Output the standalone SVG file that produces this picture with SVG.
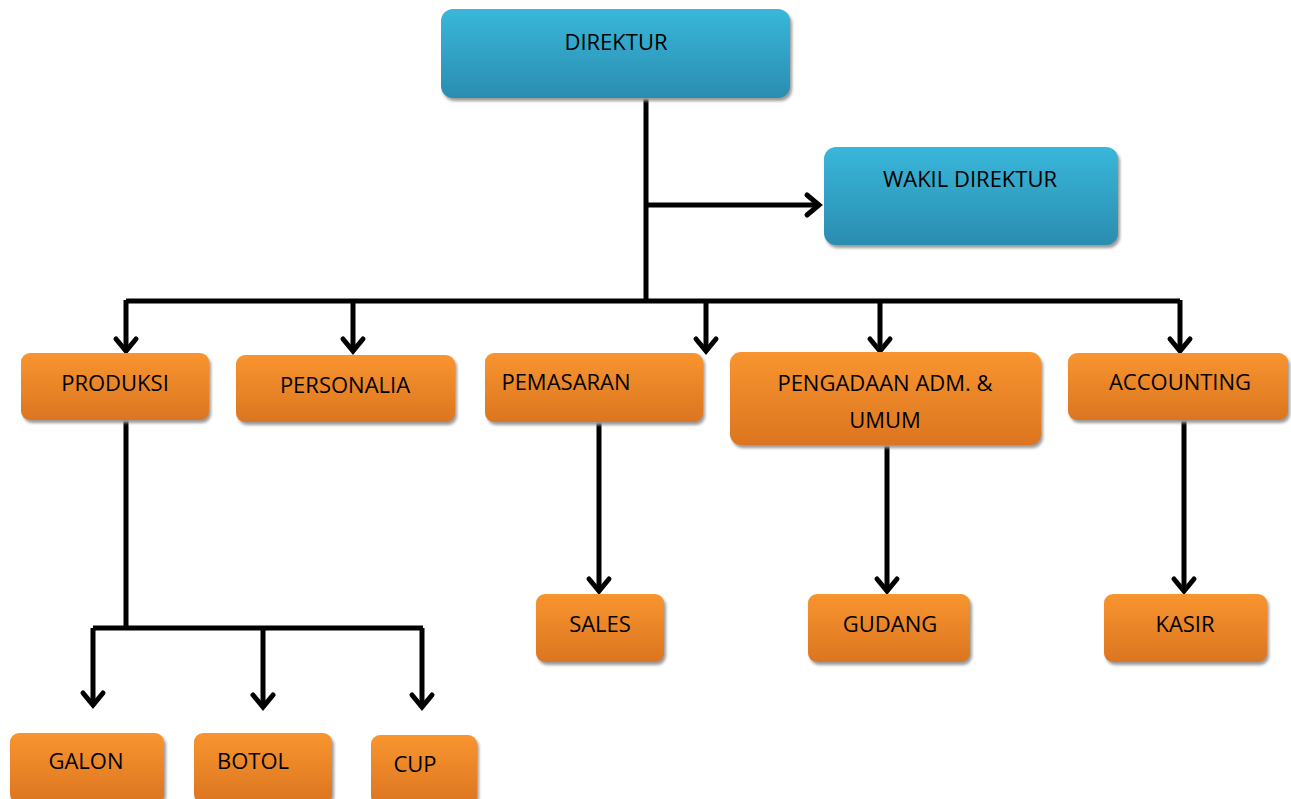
<svg xmlns="http://www.w3.org/2000/svg" width="1291" height="799" viewBox="0 0 1291 799">
<defs>
<linearGradient id="gb" x1="0" y1="0" x2="0" y2="1"><stop offset="0" stop-color="#39b7da"/><stop offset="1" stop-color="#2a8db0"/></linearGradient>
<linearGradient id="go" x1="0" y1="0" x2="0" y2="1"><stop offset="0" stop-color="#f8952f"/><stop offset="1" stop-color="#dc7520"/></linearGradient>
<filter id="sh" x="-10%" y="-10%" width="120%" height="130%"><feGaussianBlur stdDeviation="1.5"/></filter>
<marker id="ah" markerUnits="userSpaceOnUse" viewBox="-16 -13 20 26" refX="0" refY="0" markerWidth="20" markerHeight="26" orient="auto" overflow="visible">
<path d="M-12,-10 L0,0 L-12,10" fill="none" stroke="#000" stroke-width="5" stroke-linecap="round" stroke-linejoin="miter"/>
</marker>
<style>
.s{fill:#9a9a9a;filter:url(#sh)}
.b{fill:url(#gb)}
.o{fill:url(#go)}
text{font-family:"Open Sans","Noto Sans","Liberation Sans",sans-serif;font-size:22px;fill:#000;text-anchor:middle}
.c path{fill:none;stroke:#000;stroke-width:5}
.c .a{marker-end:url(#ah)}
</style>
</defs>
<rect width="1291" height="799" fill="#fff"/>
<g class="c" id="connectors">
<path d="M646,98 V303"/>
<path class="a" d="M646,205 H819"/>
<path d="M126,301 H1180"/>
<path class="a" d="M126,300 V351"/>
<path class="a" d="M353,300 V351"/>
<path class="a" d="M706,300 V351"/>
<path class="a" d="M880,300 V351"/>
<path class="a" d="M1180,300 V351"/>
<path d="M126,420 V630"/>
<path d="M93,628 H423"/>
<path class="a" d="M93,628 V705"/>
<path class="a" d="M263,628 V707"/>
<path class="a" d="M422,628 V707"/>
<path class="a" d="M599,422 V591"/>
<path class="a" d="M887,445 V591"/>
<path class="a" d="M1184,420 V591"/>
</g>
<g id="direktur"><rect class="s" x="443" y="12" width="349" height="89" rx="12"/><rect class="b" x="441" y="9" width="349" height="89" rx="12"/><text x="616" y="50">DIREKTUR</text></g>
<g id="wakil"><rect class="s" x="826" y="150" width="294" height="98" rx="12"/><rect class="b" x="824" y="147" width="294" height="98" rx="12"/><text x="970" y="187">WAKIL DIREKTUR</text></g>
<g id="produksi"><rect class="s" x="23" y="356" width="188" height="67" rx="9"/><rect class="o" x="21" y="353" width="188" height="67" rx="9"/><text x="115" y="391">PRODUKSI</text></g>
<g id="personalia"><rect class="s" x="238" y="358" width="219" height="67" rx="9"/><rect class="o" x="236" y="355" width="219" height="67" rx="9"/><text x="345" y="393">PERSONALIA</text></g>
<g id="pemasaran"><rect class="s" x="487" y="356" width="218" height="69" rx="9"/><rect class="o" x="485" y="353" width="218" height="69" rx="9"/><text x="566" y="390">PEMASARAN</text></g>
<g id="pengadaan"><rect class="s" x="732" y="355" width="311" height="93" rx="11"/><rect class="o" x="730" y="352" width="311" height="93" rx="11"/><text x="885" y="391">PENGADAAN ADM. &amp;</text><text x="885" y="428">UMUM</text></g>
<g id="accounting"><rect class="s" x="1070" y="356" width="220" height="67" rx="9"/><rect class="o" x="1068" y="353" width="220" height="67" rx="9"/><text x="1180" y="390">ACCOUNTING</text></g>
<g id="sales"><rect class="s" x="538" y="597" width="128" height="68" rx="9"/><rect class="o" x="536" y="594" width="128" height="68" rx="9"/><text x="600" y="632">SALES</text></g>
<g id="gudang"><rect class="s" x="810" y="597" width="162" height="68" rx="9"/><rect class="o" x="808" y="594" width="162" height="68" rx="9"/><text x="890" y="632">GUDANG</text></g>
<g id="kasir"><rect class="s" x="1106" y="597" width="163" height="68" rx="9"/><rect class="o" x="1104" y="594" width="163" height="68" rx="9"/><text x="1185" y="632">KASIR</text></g>
<g id="galon"><rect class="s" x="12" y="736" width="154" height="70" rx="9"/><rect class="o" x="10" y="733" width="154" height="70" rx="9"/><text x="86" y="769">GALON</text></g>
<g id="botol"><rect class="s" x="196" y="736" width="138" height="70" rx="9"/><rect class="o" x="194" y="733" width="138" height="70" rx="9"/><text x="253" y="769">BOTOL</text></g>
<g id="cup"><rect class="s" x="373" y="738" width="106" height="70" rx="9"/><rect class="o" x="371" y="735" width="106" height="70" rx="9"/><text x="415" y="772">CUP</text></g>
</svg>
